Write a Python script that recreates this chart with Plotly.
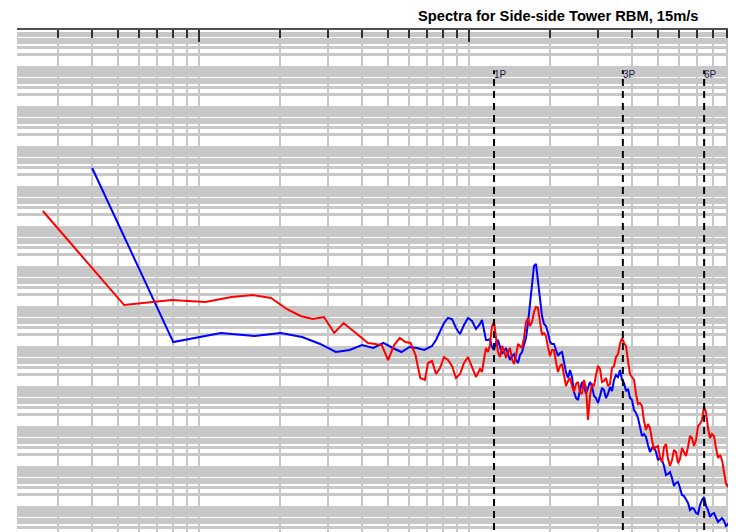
import math
import plotly.graph_objects as go

# ---------------- data (frequency in rad/s, PSD arbitrary units) ----------------
red_freq_low = [0.0264, 0.0528, 0.0792, 0.1056, 0.132, 0.1584, 0.1848, 0.2112, 0.2376, 0.264,
                0.2904, 0.3168, 0.3432, 0.3696, 0.396, 0.4224, 0.4488, 0.4752, 0.5016, 0.528,
                0.5544, 0.5808, 0.6072, 0.6336, 0.66, 0.6864]
red_psd_low = [2.51e7, 1.12e5, 1.50e5, 1.33e5, 1.78e5, 2.00e5, 1.68e5, 8.91e4, 5.96e4, 5.01e4,
               5.62e4, 2.24e4, 3.98e4, 2.66e4, 1.88e4, 1.26e4, 1.19e4, 1.12e4, 4.73e3, 1.12e4,
               1.68e4, 1.33e4, 1.26e4, 6.31e3, 1.68e3, 1.50e3]

blue_freq_low = [0.0402, 0.0803, 0.1205, 0.1606, 0.2008, 0.241, 0.2811, 0.3213, 0.3614, 0.4016,
                 0.4418, 0.4819, 0.5221, 0.5622, 0.6024, 0.6426, 0.6827]
blue_psd_low = [2.99e8, 1.33e4, 2.24e4, 1.88e4, 2.24e4, 1.78e4, 1.19e4, 7.50e3, 8.41e3, 1.12e4,
                9.44e3, 1.26e4, 9.44e3, 7.50e3, 1.00e4, 9.44e3, 8.41e3]

freq_high = [0.7050, 0.7295, 0.7548, 0.7809, 0.8080, 0.8360, 0.8650, 0.8950, 0.9261, 0.9582,
             0.9915, 1.0259, 1.0615, 1.0983, 1.1365, 1.1759, 1.2167, 1.2589, 1.3026, 1.3478,
             1.3946, 1.4430, 1.4931, 1.5449, 1.5985, 1.6540, 1.7113, 1.7707, 1.8322, 1.8957,
             1.9615, 2.0296, 2.1000, 2.1729, 2.2483, 2.3263, 2.4070, 2.4905, 2.5770, 2.6664,
             2.7589, 2.8546, 2.9537, 3.0562, 3.1623, 3.2720, 3.3855, 3.5030, 3.6246, 3.7503,
             3.8805, 4.0151, 4.1545, 4.2987, 4.4478, 4.6022, 4.7619, 4.9272, 5.0982, 5.2751,
             5.4582, 5.6476, 5.8436, 6.0464, 6.2562, 6.4733, 6.6980, 6.9305, 7.1710, 7.4199,
             7.6774, 7.9433, 8.2190, 8.5043, 8.7995, 9.1049, 9.4209, 9.7474]

red_psd_high = [3.98e3, 4.47e3, 2.11e3, 2.99e3, 5.62e3, 4.73e3, 3.35e3, 1.68e3, 2.11e3, 3.98e3,
                5.62e3, 2.99e3, 1.78e3, 2.82e3, 5.01e3, 7.50e3, 3.35e4, 1.68e4, 5.62e3, 8.41e3,
                7.50e3, 5.01e3, 5.96e3, 1.06e4, 1.68e4, 5.31e4, 4.22e4, 1.00e5, 4.22e4, 2.24e4,
                1.00e4, 8.41e3, 4.22e3, 3.35e3, 2.00e3, 1.41e3, 1.06e3, 1.19e3, 7.50e2, 1.50e3,
                1.50e2, 1.19e3, 2.00e3, 2.82e3, 1.41e3, 1.06e3, 2.99e3, 5.62e3, 1.19e4, 1.26e4,
                4.47e3, 1.78e3, 6.68e2, 3.98e2, 1.41e2, 1.19e2, 4.73e1, 3.16e1, 1.68e1, 3.16e1,
                1.58e1, 1.50e1, 2.37e1, 1.58e1, 2.37e1, 3.16e1, 5.31e1, 4.73e1, 1.19e2, 3.16e2,
                9.44e1, 6.68e1, 2.99e1, 2.00e1, 7.50e0, 3.16e0, 5.01e0, 2.66e0]

blue_psd_high = [9.44e3, 1.06e4, 1.50e4, 2.51e4, 3.98e4, 5.31e4, 5.01e4, 2.99e4, 2.11e4, 3.55e4,
                 5.31e4, 4.47e4, 2.82e4, 3.76e4, 2.66e4, 1.50e4, 1.00e4, 1.33e4, 1.00e4, 7.94e3,
                 6.68e3, 5.96e3, 4.73e3, 6.31e3, 1.12e4, 3.98e4, 4.22e5, 1.19e6, 1.50e5, 3.76e4,
                 2.24e4, 1.19e4, 8.41e3, 7.08e3, 4.22e3, 1.68e3, 1.78e3, 5.31e2, 8.41e2, 1.06e3,
                 9.44e2, 1.06e3, 5.31e2, 5.96e2, 8.41e2, 6.68e2, 7.94e2, 2.00e3, 2.66e3, 1.26e3,
                 8.91e2, 4.73e2, 2.24e2, 1.00e2, 6.68e1, 3.55e1, 2.99e1, 2.37e1, 1.68e1, 1.06e1,
                 6.68e0, 5.31e0, 3.98e0, 2.99e0, 1.88e0, 1.26e0, 9.44e-1, 7.08e-1, 1.12e0, 1.78e0,
                 8.41e-1, 6.68e-1, 5.31e-1, 4.73e-1, 4.47e-1, 3.76e-1, 4.22e-1, 3.16e-1]

freq_mid = [1.1172, 1.1560, 1.1961, 1.2376, 1.2806, 1.3250, 1.3710, 1.4186, 1.4678, 1.5188,
            1.5715, 1.6260, 1.6824, 1.7407, 1.8012, 1.8637, 1.9283, 1.9952, 2.0645, 2.1361,
            2.2103, 2.2870, 2.3663, 2.4484, 2.5333, 2.6213, 2.7123, 2.8064, 2.9037, 3.0045,
            3.1088, 3.2167, 3.3283, 3.4437, 3.5633, 3.6869, 3.8148, 3.9472, 4.0842, 4.2260,
            4.3726, 4.5243, 4.6814, 4.8438, 5.0119, 5.1859, 5.3658, 5.5521, 5.7447, 5.9441,
            6.1504, 6.3638, 6.5846, 6.8132, 7.0497, 7.2943, 7.5475, 7.8094, 8.0799, 8.3604,
            8.6506, 8.9508, 9.2615, 9.5829]

red_psd_mid = [2.37e3, 9.44e3, 1.12e4, 4.22e4, 7.50e3, 1.06e4, 5.31e3, 9.44e3, 3.76e3, 1.19e4,
               9.44e3, 4.22e4, 3.35e4, 7.50e4, 9.44e4, 2.00e4, 1.88e4, 5.96e3, 8.41e3, 2.37e3,
               3.76e3, 1.06e3, 1.68e3, 7.50e2, 1.33e3, 6.68e2, 9.44e2, 5.96e2, 1.06e3, 3.35e3,
               1.33e3, 1.68e3, 1.19e3, 3.35e3, 6.68e3, 1.68e4, 1.06e4, 2.11e3, 1.50e3, 3.76e2,
               3.35e2, 8.41e1, 9.44e1, 2.66e1, 3.35e1, 1.33e1, 3.76e1, 1.06e1, 2.66e1, 1.26e1,
               2.99e1, 1.88e1, 5.96e1, 3.35e1, 1.06e2, 1.50e2, 2.37e2, 5.31e1, 5.96e1, 1.68e1,
               1.50e1, 3.76e0, 5.31e0, 2.99e0]

blue_psd_mid = [4.73e4, 1.50e4, 1.58e4, 8.41e3, 1.50e4, 6.68e3, 9.44e3, 4.73e3, 6.68e3, 3.98e3,
                7.50e3, 1.68e4, 1.12e5, 1.06e6, 4.73e5, 5.96e4, 3.35e4, 1.33e4, 1.19e4, 5.96e3,
                7.50e3, 2.37e3, 2.66e3, 7.50e2, 4.73e2, 1.33e3, 6.68e2, 1.33e3, 5.96e2, 3.98e2,
                9.44e2, 5.31e2, 1.00e3, 1.50e3, 1.78e3, 1.50e3, 7.94e2, 5.31e2, 2.66e2, 1.68e2,
                5.96e1, 5.62e1, 2.37e1, 3.16e1, 1.50e1, 1.50e1, 6.31e0, 7.50e0, 3.35e0, 4.22e0,
                2.00e0, 1.50e0, 8.41e-1, 8.91e-1, 6.68e-1, 1.50e0, 1.06e0, 5.62e-1, 7.08e-1, 4.22e-1,
                5.31e-1, 3.35e-1, 4.47e-1, 3.16e-1]

rotor_freq_1p = 1.238  # rad/s
harmonics = [1, 3, 6]
harmonic_labels = ["1P", "3P", "6P"]
title_text = "Spectra for Side-side Tower RBM, 15m/s"


def merged(freqs, vals):
    pts = sorted(zip(freqs, vals))
    return [p[0] for p in pts], [p[1] for p in pts]


blue_x, blue_y = merged(blue_freq_low + freq_high + freq_mid,
                        blue_psd_low + blue_psd_high + blue_psd_mid)
red_x, red_y = merged(red_freq_low + freq_high + freq_mid,
                      red_psd_low + red_psd_high + red_psd_mid)

# ---------------- figure ----------------
W, H = 728, 524  # page body has an 8px margin
fig = go.Figure()
fig.add_trace(go.Scatter(x=blue_x, y=blue_y, mode="lines",
                         line=dict(color="#0000ff", width=2),
                         showlegend=False, hoverinfo="skip"))
fig.add_trace(go.Scatter(x=red_x, y=red_y, mode="lines",
                         line=dict(color="#ff0000", width=2),
                         showlegend=False, hoverinfo="skip"))

grid_col = "#c8c8c8"
for h, lab in zip(harmonics, harmonic_labels):
    f = h * rotor_freq_1p
    fig.add_shape(type="line", xref="x", yref="paper", x0=f, x1=f, y0=-0.02, y1=0.92,
                  line=dict(color="black", width=2, dash="7px,5px"), layer="above")
    fig.add_annotation(x=math.log10(f), y=0.912, xref="x", yref="paper", text=lab,
                       showarrow=False, xanchor="left", yanchor="middle", xshift=-2,
                       font=dict(family="Liberation Sans, Arial", size=10, color="#1a1a40"))

fig.update_layout(
    width=W, height=H,
    margin=dict(l=9, r=0, t=22, b=0),
    paper_bgcolor="white", plot_bgcolor="white",
    title=dict(text="<b>" + title_text + "</b>", x=410 / W, xanchor="left",
               y=1 - 8 / H, yanchor="middle",
               font=dict(family="Liberation Sans, Arial", size=14.7, color="black")),
    showlegend=False,
)
fig.update_xaxes(type="log", range=[(17 - 469) / 270, (736 - 469) / 270],
                 side="top", showline=True, linecolor="#505050", linewidth=2,
                 ticks="inside", ticklen=12, tickwidth=2, tickcolor="#303030",
                 showticklabels=False, dtick=1,
                 showgrid=True, gridcolor=grid_col, gridwidth=2, zeroline=False,
                 minor=dict(ticks="inside", ticklen=8, tickwidth=2, tickcolor="#303030",
                            showgrid=True, gridcolor=grid_col, gridwidth=2, dtick="D1"))
fig.update_yaxes(type="log", range=[-0.625, 11.925],
                 showline=False, ticks="", showticklabels=False, dtick=1,
                 showgrid=True, gridcolor=grid_col, gridwidth=3, zeroline=False,
                 minor=dict(ticks="", showgrid=True, gridcolor=grid_col, gridwidth=3, dtick="D1"))

fig.write_html("out.html")
